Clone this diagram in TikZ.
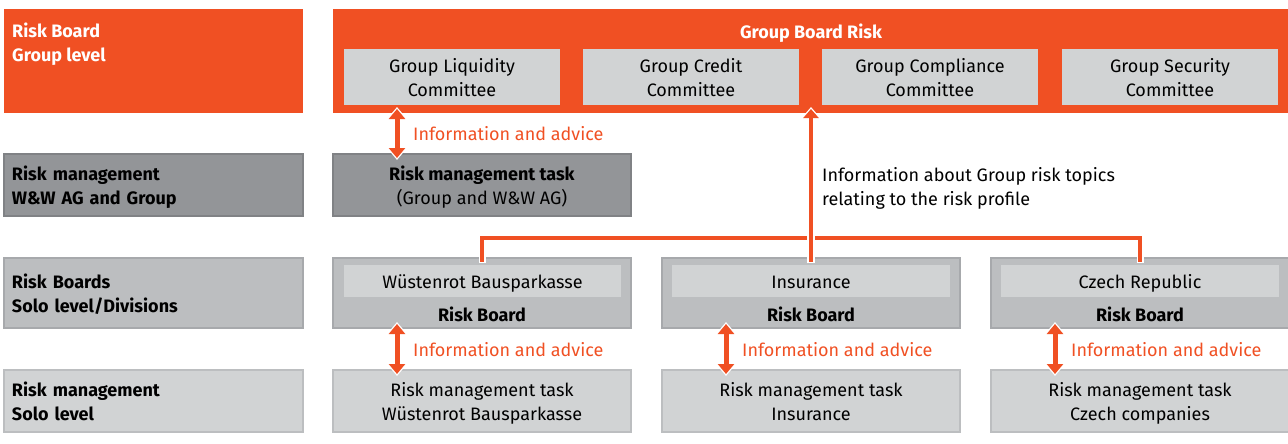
\documentclass[tikz,border=0pt]{standalone}
\usepackage{fontspec}
\setmainfont{Fira Sans}
\usetikzlibrary{arrows.meta,calc}
\newcommand\wwfont{\fontsize{18}{24}\selectfont}
\newcommand\ws{\rule[-4.7pt]{0pt}{24pt}}
\definecolor{wwor}{HTML}{F05023}
\definecolor{wwdark}{HTML}{939598}
\definecolor{wwdarkb}{HTML}{808285}
\definecolor{wwmid}{HTML}{BCBEC0}
\definecolor{wwmidb}{HTML}{A7A9AC}
\definecolor{wwlight}{HTML}{D1D3D4}
\definecolor{wwlightb}{HTML}{BCBEC0}
\tikzset{
  base/.style={anchor=north west, inner sep=0pt, outer sep=0pt},
  orangebox/.style={base, fill=wwor},
  darkbox/.style={base, fill=wwdark, draw=wwdarkb, line width=1.2pt},
  midbox/.style={base, fill=wwmid, draw=wwmidb, line width=1.2pt},
  lightbox/.style={base, fill=wwlight, draw=wwlightb, line width=1.2pt},
  innerbox/.style={base, fill=wwlight},
  leftlbl/.style={align=left, text width=283pt, inner xsep=8pt, font=\wwfont\bfseries},
  boldtxt/.style={font=\wwfont\bfseries},
  infolbl/.style={anchor=west, text=wwor, inner sep=0pt},
  dbl/.style={draw=wwor, line width=5pt, shorten <=2pt, shorten >=2pt,
    {Triangle[width=16pt,length=10pt]}-{Triangle[width=16pt,length=10pt]},
    preaction={draw=white, line width=8pt, shorten <=0pt, shorten >=0pt,
      arrows={Triangle[width=21pt,length=13pt]-Triangle[width=21pt,length=13pt]}}},
  bracket/.style={draw=wwor, line width=4pt, shorten <=1.5pt,  shorten >=1.5pt,
    preaction={draw=white, line width=7pt, shorten <=0pt, shorten >=0pt}},
  uparrow/.style={draw=wwor, line width=4.5pt, shorten <=1.5pt, shorten >=2pt,
    -{Triangle[width=15pt,length=9pt]},
    preaction={draw=white, line width=7.5pt, shorten <=0pt, shorten >=0pt,
      arrows={-Triangle[width=20pt,length=12pt]}}}
}
\begin{document}
\begin{tikzpicture}[x=1pt,y=-1pt, font=\wwfont]
\useasboundingbox (0,0) rectangle (1288,444);
% left column
\node[orangebox, minimum width=299pt, minimum height=104pt] (lrb) at (4,9) {};
\node[anchor=north west, align=left, inner sep=0pt, boldtxt, text=white] (lrbt) at (12,18.5) {\ws Risk Board\\\ws Group level};
\node[darkbox, leftlbl, minimum height=62pt] (lrm) at (4,154) {\ws Risk management\\\ws W\&W AG and Group};
\node[midbox, leftlbl, minimum height=70pt] (lrbs) at (4,258) {\ws Risk Boards\\\ws Solo level/Divisions};
\node[lightbox, leftlbl, minimum height=62pt] (lrms) at (4,370) {\ws Risk management\\\ws Solo level};
% group board risk
\node[orangebox, minimum width=955pt, minimum height=104pt] (gbr) at (333,9) {};
\node[boldtxt, text=white] (gbrt) at (811,31) {\ws Group Board Risk};
\node[innerbox, minimum width=216pt, minimum height=56pt, align=center] (liq) at (344,49) {\ws Group Liquidity\\\ws Committee};
\node[innerbox, minimum width=216pt, minimum height=56pt, align=center] (cred) at (583,49) {\ws Group Credit\\\ws Committee};
\node[innerbox, minimum width=216pt, minimum height=56pt, align=center] (comp) at (822,49) {\ws Group Compliance\\\ws Committee};
\node[innerbox, minimum width=216pt, minimum height=56pt, align=center] (sec) at (1062,49) {\ws Group Security\\\ws Committee};
% risk management task group
\node[darkbox, minimum width=298pt, minimum height=62pt, align=center] (rmt) at (333,154) {\ws\textbf{Risk management task}\\\ws (Group and W\&W AG)};
% risk boards solo
\node[midbox, minimum width=298pt, minimum height=70pt] (rbA) at (333,258) {};
\node[midbox, minimum width=298pt, minimum height=70pt] (rbB) at (662,258) {};
\node[midbox, minimum width=298pt, minimum height=70pt] (rbC) at (991,258) {};
\node[innerbox, minimum width=277pt, minimum height=32pt] (inA) at (344,265) {\ws Wüstenrot Bausparkasse};
\node[innerbox, minimum width=278pt, minimum height=32pt] (inB) at (672,265) {\ws Insurance};
\node[innerbox, minimum width=278pt, minimum height=32pt] (inC) at (1001,265) {\ws Czech Republic};
\node[boldtxt] (rbAt) at (482,314) {\ws Risk Board};
\node[boldtxt] (rbBt) at (811,314) {\ws Risk Board};
\node[boldtxt] (rbCt) at (1140,314) {\ws Risk Board};
% risk management solo
\node[lightbox, minimum width=298pt, minimum height=62pt, align=center] (rmA) at (333,370) {\ws Risk management task\\\ws Wüstenrot Bausparkasse};
\node[lightbox, minimum width=298pt, minimum height=62pt, align=center] (rmB) at (662,370) {\ws Risk management task\\\ws Insurance};
\node[lightbox, minimum width=298pt, minimum height=62pt, align=center] (rmC) at (991,370) {\ws Risk management task\\\ws Czech companies};
% connectors
\draw[bracket] ([yshift=-5pt]rbA.north) -- ++(0,-25) -| ([yshift=-5pt]rbC.north);
\draw[uparrow] ([yshift=-5pt]rbB.north) -- ($(rbB.north |- gbr.south)+(0,-6)$);
\draw[dbl] ([xshift=53pt,yshift=-2pt]liq.south west) -- ([xshift=64pt,yshift=-6pt]rmt.north west);
\draw[dbl] ([xshift=64pt,yshift=6pt]rbA.south west) -- ([xshift=64pt,yshift=-6pt]rmA.north west);
\draw[dbl] ([xshift=64pt,yshift=6pt]rbB.south west) -- ([xshift=64pt,yshift=-6pt]rmB.north west);
\draw[dbl] ([xshift=64pt,yshift=6pt]rbC.south west) -- ([xshift=64pt,yshift=-6pt]rmC.north west);
% labels
\node[infolbl] (ia0) at (413,133) {\ws Information and advice};
\node[infolbl] (iaA) at (413,349) {\ws Information and advice};
\node[infolbl] (iaB) at (742,349) {\ws Information and advice};
\node[infolbl] (iaC) at (1071,349) {\ws Information and advice};
\node[anchor=north west, align=left, inner sep=0pt] (grt) at (822,161.5) {\ws Information about Group risk topics\\\ws relating to the risk profile};
\end{tikzpicture}
\end{document}
